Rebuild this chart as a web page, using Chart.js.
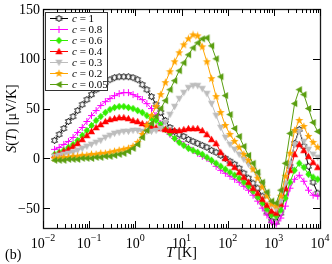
<!DOCTYPE html>
<html>
<head>
<meta charset="utf-8">
<script src="https://cdn.jsdelivr.net/npm/chart.js@4.4.0/dist/chart.umd.min.js"></script>
<style>
  html, body { margin: 0; padding: 0; background: #fff; }
  canvas { display: block; }
</style>
</head>
<body>
<canvas id="seebeckChart" width="332" height="264"></canvas>
<script>
// ====== Données ======
// log10(T) de chaque point
const logT = [
  -1.75, -1.65, -1.55, -1.45, -1.35, -1.25, -1.15, -1.05, -0.95, -0.85,
  -0.75, -0.65, -0.55, -0.45, -0.35, -0.25, -0.15, -0.05, 0.05, 0.15,
  0.25, 0.35, 0.45, 0.55, 0.65, 0.75, 0.85, 0.95, 1.05, 1.15,
  1.25, 1.35, 1.45, 1.55, 1.65, 1.75, 1.85, 1.95, 2.05, 2.15,
  2.25, 2.35, 2.45, 2.55, 2.65, 2.75, 2.85, 2.95, 3.05, 3.15,
  3.25, 3.35, 3.45, 3.55, 3.65, 3.75, 3.85, 3.95
];

// S(T) en µV/K
const s_c1 = [
  18, 24, 30, 37, 42, 48, 54, 59, 64, 69, 73, 76, 79, 81, 82, 82, 82, 81,
  79, 74, 69, 62, 54, 46, 38, 31, 27, 24, 22, 19, 17, 15, 13, 11, 8, 6, 3, 0,
  -3, -6, -10, -15, -20, -25, -30, -38, -54, -63, -64, -55, -35, -8, 15, 29, 12, -8, -24, -35
];
const s_c08 = [
  9, 11, 14, 17, 21, 26, 31, 37, 43, 48, 53, 57, 60, 63, 65, 66, 66, 64,
  62, 59, 55, 50, 43, 35, 29, 24, 20, 17, 14, 11, 8, 5, 2, 0, -3, -8, -12, -15,
  -18, -21, -24, -28, -32, -37, -43, -50, -57, -64, -66, -60, -48, -30, -21, -17, -23, -32, -37, -38
];
const s_c06 = [
  4, 6, 8, 11, 14, 18, 23, 28, 33, 38, 42, 46, 49, 51, 52, 52, 51, 50,
  48, 46, 43, 40, 38, 34, 29, 25, 20, 16, 13, 10, 8, 6, 4, 1, -2, -5, -8, -11,
  -14, -17, -20, -24, -28, -33, -39, -45, -51, -57, -58, -52, -40, -24, -12, -5, -9, -16, -19, -21
];
const s_c04 = [
  3, 5, 7, 9, 12, 15, 19, 23, 27, 31, 34, 37, 39, 40, 41, 41, 40, 38,
  37, 35, 34, 32, 31, 30, 29, 28, 28, 28, 29, 30, 30, 30, 28, 24, 19, 15, 6, 0,
  -5, -9, -14, -19, -24, -30, -35, -41, -47, -53, -55, -46, -30, -12, 4, 14, 8, 2, -4, -9
];
const s_c03 = [
  2, 3, 4, 5, 6, 8, 10, 12, 14, 16, 18, 21, 23, 25, 26, 27, 27, 28,
  28, 27, 27, 27, 28, 30, 36, 44, 52, 60, 66, 71, 73, 73, 70, 65, 55, 43, 31, 21,
  14, 9, 4, -1, -6, -11, -18, -26, -36, -47, -51, -43, -25, -5, 14, 27, 17, 9, 4, 1
];
const s_c02 = [
  0, 0, 1, 1, 2, 2, 3, 3, 4, 4, 5, 5, 6, 7, 8, 9, 10, 12,
  16, 24, 33, 43, 52, 64, 76, 87, 97, 106, 114, 120, 124, 123, 112, 97, 80, 62, 46, 33,
  24, 17, 11, 4, -2, -11, -20, -29, -38, -46, -48, -38, -18, 5, 28, 38, 32, 22, 16, 11
];
const s_c005 = [
  -2, -2, -2, -1, -1, -1, 0, 0, 0, 1, 1, 2, 2, 3, 4, 5, 7, 10,
  14, 21, 28, 35, 42, 50, 58, 69, 78, 88, 96, 104, 111, 116, 120, 121, 113, 100, 82, 63,
  44, 30, 22, 12, 3, -5, -14, -24, -34, -43, -45, -32, -5, 25, 55, 69, 64, 50, 36, 27
];

const concentrations = ["1", "0.8", "0.6", "0.4", "0.3", "0.2", "0.05"];
const seriesValues  = [s_c1, s_c08, s_c06, s_c04, s_c03, s_c02, s_c005];
const seriesColors  = ["#000000", "#ff00ff", "#33ee00", "#ff0000", "#bdbdbd", "#ffa500", "#5a9e10"];
const seriesMarkers = ["hexagram", "plus", "diamond", "triUp", "triDown", "star", "triLeft"];

const yTicks = [150, 100, 50, 0, -50];
const yTickLabels = ["150", "100", "50", "0", "\u221250"];
const xDecades = [-2, -1, 0, 1, 2, 3, 4];
const xTickExp = ["\u22122", "\u22121", "0", "1", "2", "3", "4"];

const SERIF = '"Liberation Serif", "DejaVu Serif", serif';

// ====== Marqueurs (petits canvas) ======
function makeMarker(shape, color) {
  const c = document.createElement("canvas");
  c.width = 9; c.height = 9;
  const g = c.getContext("2d");
  const cx = 4.5, cy = 4.5;
  g.fillStyle = color;
  g.strokeStyle = color;
  g.lineWidth = 1;
  g.beginPath();
  if (shape === "hexagram") {
    for (let k = 0; k < 12; k++) {
      const a = -Math.PI / 2 + k * Math.PI / 6;
      const r = k % 2 === 0 ? 3.4 : 1.95;
      const px = cx + r * Math.cos(a), py = cy + r * Math.sin(a);
      k === 0 ? g.moveTo(px, py) : g.lineTo(px, py);
    }
    g.closePath();
    g.fillStyle = "#fff";
    g.fill();
    g.lineWidth = 0.9;
    g.stroke();
  } else if (shape === "star") {
    for (let k = 0; k < 10; k++) {
      const a = -Math.PI / 2 + k * Math.PI / 5;
      const r = k % 2 === 0 ? 4.2 : 1.8;
      const px = cx + r * Math.cos(a), py = cy + r * Math.sin(a);
      k === 0 ? g.moveTo(px, py) : g.lineTo(px, py);
    }
    g.closePath();
    g.fill();
  } else if (shape === "plus") {
    g.moveTo(cx - 3.5, cy); g.lineTo(cx + 3.5, cy);
    g.moveTo(cx, cy - 3.5); g.lineTo(cx, cy + 3.5);
    g.stroke();
  } else if (shape === "diamond") {
    g.moveTo(cx, cy - 3.7); g.lineTo(cx + 3.2, cy);
    g.lineTo(cx, cy + 3.7); g.lineTo(cx - 3.2, cy);
    g.closePath(); g.fill();
  } else if (shape === "triUp") {
    g.moveTo(cx, cy - 3.7); g.lineTo(cx + 3.6, cy + 2.7); g.lineTo(cx - 3.6, cy + 2.7);
    g.closePath(); g.fill();
  } else if (shape === "triDown") {
    g.moveTo(cx, cy + 3.7); g.lineTo(cx + 3.6, cy - 2.7); g.lineTo(cx - 3.6, cy - 2.7);
    g.closePath(); g.fill();
  } else if (shape === "triLeft") {
    g.moveTo(cx - 3.7, cy); g.lineTo(cx + 2.7, cy - 3.6); g.lineTo(cx + 2.7, cy + 3.6);
    g.closePath(); g.fill();
  }
  return c;
}

const markers = seriesMarkers.map((m, i) => makeMarker(m, seriesColors[i]));

// ====== Cadre, graduations, textes, légende ======
const decorPlugin = {
  id: "decor",
  afterDatasetsDraw(chart) {
    const { ctx, chartArea: a, scales: { x, y } } = chart;
    const crisp = v => Math.round(v) + 0.5;
    ctx.save();

    // cadre
    ctx.strokeStyle = "#1a1a1a";
    ctx.lineWidth = 1.3;
    ctx.strokeRect(crisp(a.left), crisp(a.top), Math.round(a.right - a.left), Math.round(a.bottom - a.top));

    // graduations vers l'intérieur
    ctx.lineWidth = 1;
    ctx.strokeStyle = "#000";
    ctx.beginPath();
    xDecades.forEach((d, i) => {
      const px = crisp(x.getPixelForValue(Math.pow(10, d)));
      ctx.moveTo(px, a.bottom); ctx.lineTo(px, a.bottom - 7);
      ctx.moveTo(px, a.top); ctx.lineTo(px, a.top + 7);
      if (i < xDecades.length - 1) {
        for (let m = 2; m <= 9; m++) {
          const pm = crisp(x.getPixelForValue(m * Math.pow(10, d)));
          ctx.moveTo(pm, a.bottom); ctx.lineTo(pm, a.bottom - 4);
          ctx.moveTo(pm, a.top); ctx.lineTo(pm, a.top + 4);
        }
      }
    });
    yTicks.forEach(v => {
      const py = crisp(y.getPixelForValue(v));
      ctx.moveTo(a.left, py); ctx.lineTo(a.left + 7, py);
      ctx.moveTo(a.right, py); ctx.lineTo(a.right - 7, py);
    });
    ctx.stroke();

    // étiquettes de l'axe y
    ctx.fillStyle = "#000";
    ctx.font = "14px " + SERIF;
    ctx.textAlign = "right";
    ctx.textBaseline = "alphabetic";
    yTicks.forEach((v, i) => {
      ctx.fillText(yTickLabels[i], a.left - 3, y.getPixelForValue(v) + 4.5);
    });

    // étiquettes de l'axe x : 10^n
    ctx.textAlign = "left";
    xDecades.forEach((d, i) => {
      const px = x.getPixelForValue(Math.pow(10, d));
      ctx.font = "14px " + SERIF;
      const wBase = ctx.measureText("10").width;
      ctx.font = "10px " + SERIF;
      const wExp = ctx.measureText(xTickExp[i]).width;
      const x0 = px - (wBase + wExp) / 2;
      ctx.font = "14px " + SERIF;
      ctx.fillText("10", x0, 248);
      ctx.font = "10px " + SERIF;
      ctx.fillText(xTickExp[i], x0 + wBase, 241);
    });

    // titre de l'axe x : T [K]
    const midX = (a.left + a.right) / 2;
    ctx.font = "italic 14px " + SERIF;
    const wT = ctx.measureText("T").width;
    ctx.font = "14px " + SERIF;
    const wRest = ctx.measureText(" [K]").width;
    let xs = midX - (wT + wRest) / 2;
    ctx.font = "italic 14px " + SERIF;
    ctx.fillText("T", xs, 257);
    ctx.font = "14px " + SERIF;
    ctx.fillText(" [K]", xs + wT, 257);

    // titre de l'axe y : S(T) [µV/K]
    const parts = [["S", true], ["(", false], ["T", true], [") [\u03bcV/K]", false]];
    const widths = parts.map(p => {
      ctx.font = (p[1] ? "italic " : "") + "14px " + SERIF;
      return ctx.measureText(p[0]).width;
    });
    const total = widths.reduce((s, w) => s + w, 0);
    ctx.save();
    ctx.translate(16, (a.top + a.bottom) / 2);
    ctx.rotate(-Math.PI / 2);
    let cur = -total / 2;
    parts.forEach((p, i) => {
      ctx.font = (p[1] ? "italic " : "") + "14px " + SERIF;
      ctx.fillText(p[0], cur, 0);
      cur += widths[i];
    });
    ctx.restore();

    // (b)
    ctx.font = "14px " + SERIF;
    ctx.fillText("(b)", 5, 259);

    // légende
    ctx.fillStyle = "#fff";
    ctx.fillRect(46, 12, 62, 78);
    ctx.strokeStyle = "#333";
    ctx.lineWidth = 1;
    ctx.strokeRect(45.5, 12.5, 62, 78);
    concentrations.forEach((c, i) => {
      const ry = 18.5 + i * 11;
      ctx.strokeStyle = seriesColors[i];
      ctx.beginPath();
      ctx.moveTo(50, ry); ctx.lineTo(68, ry);
      ctx.stroke();
      ctx.drawImage(markers[i], 59 - 4.5, ry - 4.5);
      ctx.fillStyle = "#000";
      ctx.font = "italic 11px " + SERIF;
      ctx.fillText("c", 72, ry + 3.5);
      const wc = ctx.measureText("c").width;
      ctx.font = "11px " + SERIF;
      ctx.fillText(" = " + c, 72 + wc, ry + 3.5);
    });

    ctx.restore();
  }
};

// ====== Graphique ======
const datasets = concentrations.map((c, i) => ({
  label: "c = " + c,
  data: logT.map((e, k) => ({ x: Math.pow(10, e), y: seriesValues[i][k] })),
  borderColor: seriesColors[i],
  backgroundColor: seriesColors[i],
  borderWidth: 1,
  pointStyle: markers[i],
  pointRadius: 3.5,
  tension: 0,
  order: concentrations.length - i
}));

new Chart(document.getElementById("seebeckChart").getContext("2d"), {
  type: "line",
  data: { datasets },
  options: {
    responsive: false,
    animation: false,
    layout: { padding: { left: 43, right: 12, top: 9, bottom: 36 } },
    plugins: {
      legend: { display: false },
      tooltip: { enabled: false }
    },
    scales: {
      x: { type: "logarithmic", min: 0.01, max: 10000, display: false },
      y: { type: "linear", min: -70, max: 150, display: false }
    }
  },
  plugins: [decorPlugin]
});
</script>
</body>
</html>
